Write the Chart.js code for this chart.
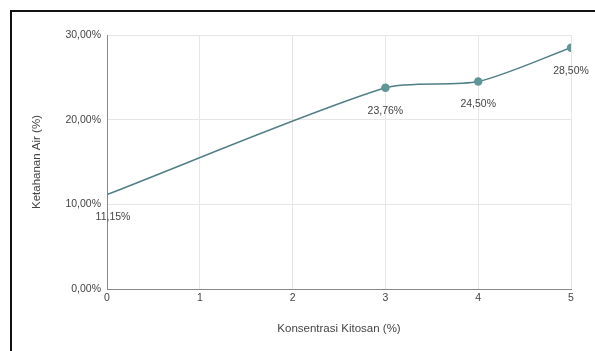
<!DOCTYPE html>
<html>
<head>
<meta charset="utf-8">
<script src="https://cdn.jsdelivr.net/npm/chart.js@4"></script>
<style>
  html, body { margin: 0; padding: 0; background: #fff; }
  #wrap { position: relative; width: 595px; height: 351px; }
  #frame { position: absolute; left: 10px; top: 10px; right: 0; bottom: 0;
           border-top: 2px solid #111; border-left: 2px solid #111; pointer-events: none; }
  canvas { position: absolute; left: 0; top: 0; }
</style>
</head>
<body>
<div id="wrap">
  <canvas id="ketahananChart" width="595" height="351"></canvas>
  <div id="frame"></div>
</div>
<script>
// Kitosan concentration (%) and water resistance (%)
const konsentrasi = [0, 3, 4, 5];
const ketahanan = [11.15, 23.76, 24.50, 28.50];
const yTicks = [0, 10, 20, 30];

const FONT = '"Liberation Sans", Arial, sans-serif';
const fmtPct = v => v.toFixed(2).replace('.', ',') + '%';

// writes the value under every point
const valueLabels = {
    id: 'valueLabels',
    afterDatasetsDraw(chart) {
        const ctx = chart.ctx;
        const meta = chart.getDatasetMeta(0);
        ctx.save();
        ctx.font = '10.5px ' + FONT;
        ctx.fillStyle = '#444';
        ctx.textAlign = 'center';
        ctx.textBaseline = 'middle';
        meta.data.forEach((pt, i) => {
            const dx = i === 0 ? 6 : 0;
            ctx.fillText(fmtPct(ketahanan[i]), pt.x + dx, pt.y + 23);
        });
        ctx.restore();
    }
};

const ctx = document.getElementById('ketahananChart').getContext('2d');
const chart = new Chart(ctx, {
    type: 'line',
    data: {
        datasets: [{
            data: konsentrasi.map((x, i) => ({ x: x, y: ketahanan[i] })),
            borderColor: '#4f7f86',
            borderWidth: 1.5,
            backgroundColor: '#5f9696',
            pointBackgroundColor: ['rgba(0,0,0,0)', '#5f9696', '#5f9696', '#5f9696'],
            pointBorderColor: ['rgba(0,0,0,0)', '#5f9696', '#5f9696', '#5f9696'],
            pointRadius: 3.5,
            tension: 0.25,
            fill: false
        }]
    },
    options: {
        responsive: false,
        animation: false,
        layout: { padding: { top: 35, right: 24, left: 0, bottom: 0 } },
        plugins: {
            legend: { display: false },
            tooltip: { enabled: false }
        },
        scales: {
            x: {
                type: 'linear',
                min: 0,
                max: 5,
                ticks: {
                    stepSize: 1,
                    color: '#444',
                    font: { family: FONT, size: 10.5 },
                    padding: 3
                },
                grid: { color: '#e6e6e6', drawTicks: false },
                border: { color: '#888', width: 1 },
                title: {
                    display: true,
                    text: 'Konsentrasi Kitosan (%)',
                    color: '#444',
                    font: { family: FONT, size: 11.5 },
                    padding: { top: 0, bottom: 15 }
                },
                afterFit(scale) { scale.height = 62; }
            },
            y: {
                min: 0,
                max: 30,
                afterBuildTicks(scale) { scale.ticks = yTicks.map(v => ({ value: v })); },
                ticks: {
                    color: '#444',
                    font: { family: FONT, size: 10.5 },
                    padding: 6,
                    callback: v => fmtPct(v)
                },
                grid: { color: '#e6e6e6', drawTicks: false },
                border: { color: '#888', width: 1 },
                title: {
                    display: true,
                    text: 'Ketahanan Air (%)',
                    color: '#444',
                    font: { family: FONT, size: 11.5 },
                    padding: { top: 30, bottom: 0 }
                },
                afterFit(scale) { scale.width = 107; }
            }
        }
    },
    plugins: [valueLabels]
});
</script>
</body>
</html>
